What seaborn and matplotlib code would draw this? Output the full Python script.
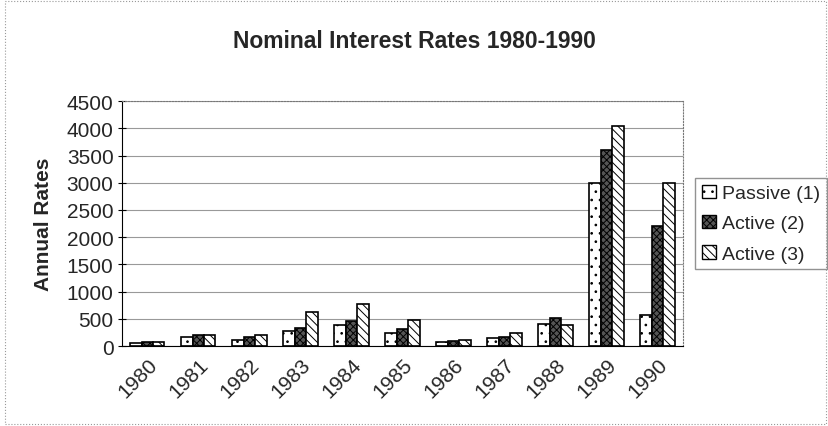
import pandas as pd
import matplotlib.pyplot as plt
import seaborn as sns
from matplotlib.patches import Rectangle, Patch

years = ["1980", "1981", "1982", "1983", "1984", "1985", "1986", "1987", "1988", "1989", "1990"]
passive_1 = [60, 170, 110, 280, 390, 250, 70, 150, 400, 3000, 570]
active_2 = [80, 200, 170, 340, 460, 320, 100, 170, 520, 3600, 2200]
active_3 = [80, 200, 200, 620, 770, 480, 120, 245, 380, 4050, 3000]
series = ["Passive (1)", "Active (2)", "Active (3)"]

df = pd.DataFrame({"Year": years * 3,
                   "Rate": passive_1 + active_2 + active_3,
                   "Series": [s for s in series for _ in years]})

sns.set_style("white")
plt.rcParams["font.family"] = ["Liberation Sans", "DejaVu Sans"]
plt.rcParams["hatch.linewidth"] = 0.7

fig = plt.figure(figsize=(8.29, 4.27), dpi=100)
fig.patches.append(Rectangle((0.006, 0.004), 0.99, 0.992, transform=fig.transFigure,
                             fill=False, edgecolor="#999999", linewidth=0.8, linestyle=":"))
ax = fig.add_axes([0.147, 0.187, 0.677, 0.574])

sns.barplot(data=df, x="Year", y="Rate", hue="Series", order=years, hue_order=series,
            width=0.67, ax=ax, edgecolor="black", linewidth=1.2, saturation=1, legend=False)

fills = ["white", "#555555", "white"]
hatches = ["..", "xxxxx", "\\\\\\\\"]
for cont, fc, h in zip(ax.containers, fills, hatches):
    for bar in cont:
        bar.set_facecolor(fc)
        bar.set_hatch(h)
        bar.set_edgecolor("black")

ax.set_ylim(0, 4500)
ax.set_xlim(-0.5, len(years) - 0.5)
ax.set_yticks(range(0, 4501, 500))
ax.yaxis.grid(True, color="#999999", linewidth=0.8)
ax.set_axisbelow(True)
for side in ["top", "right"]:
    ax.spines[side].set_linestyle(":")
    ax.spines[side].set_color("#777777")
ax.spines["left"].set_color("black")
ax.spines["bottom"].set_color("black")

ax.set_xticks([i - 0.5 for i in range(len(years) + 1)], minor=True)
ax.tick_params(axis="x", which="major", length=0, labelsize=15, pad=6)
ax.tick_params(axis="x", which="minor", length=5, direction="inout", color="black")
ax.tick_params(axis="y", length=6, direction="inout", color="black", labelsize=15, left=True, pad=3)
plt.setp(ax.get_xticklabels(), rotation=45, ha="right", rotation_mode="anchor")

ax.set_xlabel("")
ax.set_ylabel("Annual Rates", fontsize=15, fontweight="bold", labelpad=10)
fig.suptitle("Nominal Interest Rates 1980-1990", fontsize=16.5, fontweight="bold", y=0.93)

handles = [Patch(facecolor=fc, edgecolor="black", hatch=h, label=s)
           for fc, h, s in zip(fills, hatches, series)]
ax.legend(handles=handles, loc="center left", bbox_to_anchor=(1.022, 0.5), frameon=True,
          fancybox=False, edgecolor="#777777", fontsize=14, handlelength=0.7,
          handleheight=0.7, handletextpad=0.3, borderpad=0.35, labelspacing=0.65,
          borderaxespad=0)

plt.savefig("out.png", dpi=100)
